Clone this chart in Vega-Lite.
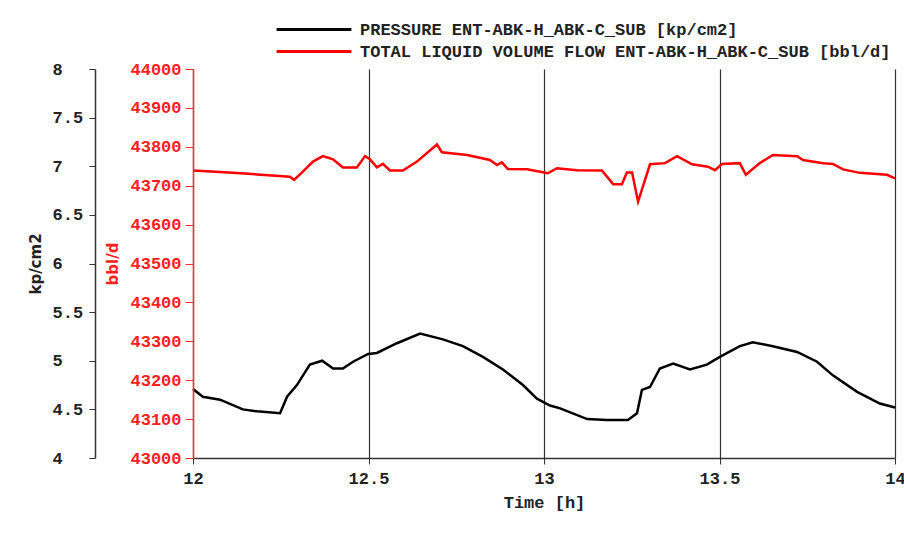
{
  "$schema": "https://vega.github.io/schema/vega-lite/v6.json",
  "autosize": {"type": "none"},
  "padding": {"left": 193, "top": 69, "right": 9, "bottom": 88},
  "width": 702,
  "height": 389,
  "background": "white",
  "config": {
    "view": {"stroke": null},
    "font": "Liberation Mono",
    "axis": {"labelFont": "Liberation Mono", "labelFontSize": 17, "labelFontWeight": "bold"},
    "legend": {
      "title": null,
      "orient": "none",
      "symbolType": "stroke",
      "symbolSize": 5600,
      "symbolStrokeWidth": 3,
      "labelFont": "Liberation Mono",
      "labelFontSize": 17,
      "labelFontWeight": "bold",
      "labelColor": "#222",
      "labelLimit": 0,
      "labelOffset": 7
    }
  },
  "datasets": {
    "pressure": [
      {"t": 12.000, "v": 4.71, "series": "PRESSURE ENT-ABK-H_ABK-C_SUB [kp/cm2]"},
      {"t": 12.028, "v": 4.63, "series": "PRESSURE ENT-ABK-H_ABK-C_SUB [kp/cm2]"},
      {"t": 12.077, "v": 4.60, "series": "PRESSURE ENT-ABK-H_ABK-C_SUB [kp/cm2]"},
      {"t": 12.142, "v": 4.50, "series": "PRESSURE ENT-ABK-H_ABK-C_SUB [kp/cm2]"},
      {"t": 12.182, "v": 4.48, "series": "PRESSURE ENT-ABK-H_ABK-C_SUB [kp/cm2]"},
      {"t": 12.248, "v": 4.46, "series": "PRESSURE ENT-ABK-H_ABK-C_SUB [kp/cm2]"},
      {"t": 12.268, "v": 4.63, "series": "PRESSURE ENT-ABK-H_ABK-C_SUB [kp/cm2]"},
      {"t": 12.296, "v": 4.75, "series": "PRESSURE ENT-ABK-H_ABK-C_SUB [kp/cm2]"},
      {"t": 12.333, "v": 4.96, "series": "PRESSURE ENT-ABK-H_ABK-C_SUB [kp/cm2]"},
      {"t": 12.368, "v": 5.00, "series": "PRESSURE ENT-ABK-H_ABK-C_SUB [kp/cm2]"},
      {"t": 12.399, "v": 4.92, "series": "PRESSURE ENT-ABK-H_ABK-C_SUB [kp/cm2]"},
      {"t": 12.427, "v": 4.92, "series": "PRESSURE ENT-ABK-H_ABK-C_SUB [kp/cm2]"},
      {"t": 12.456, "v": 4.99, "series": "PRESSURE ENT-ABK-H_ABK-C_SUB [kp/cm2]"},
      {"t": 12.499, "v": 5.07, "series": "PRESSURE ENT-ABK-H_ABK-C_SUB [kp/cm2]"},
      {"t": 12.524, "v": 5.08, "series": "PRESSURE ENT-ABK-H_ABK-C_SUB [kp/cm2]"},
      {"t": 12.581, "v": 5.18, "series": "PRESSURE ENT-ABK-H_ABK-C_SUB [kp/cm2]"},
      {"t": 12.647, "v": 5.28, "series": "PRESSURE ENT-ABK-H_ABK-C_SUB [kp/cm2]"},
      {"t": 12.712, "v": 5.22, "series": "PRESSURE ENT-ABK-H_ABK-C_SUB [kp/cm2]"},
      {"t": 12.769, "v": 5.15, "series": "PRESSURE ENT-ABK-H_ABK-C_SUB [kp/cm2]"},
      {"t": 12.826, "v": 5.04, "series": "PRESSURE ENT-ABK-H_ABK-C_SUB [kp/cm2]"},
      {"t": 12.883, "v": 4.91, "series": "PRESSURE ENT-ABK-H_ABK-C_SUB [kp/cm2]"},
      {"t": 12.940, "v": 4.75, "series": "PRESSURE ENT-ABK-H_ABK-C_SUB [kp/cm2]"},
      {"t": 12.980, "v": 4.61, "series": "PRESSURE ENT-ABK-H_ABK-C_SUB [kp/cm2]"},
      {"t": 13.017, "v": 4.54, "series": "PRESSURE ENT-ABK-H_ABK-C_SUB [kp/cm2]"},
      {"t": 13.046, "v": 4.51, "series": "PRESSURE ENT-ABK-H_ABK-C_SUB [kp/cm2]"},
      {"t": 13.123, "v": 4.40, "series": "PRESSURE ENT-ABK-H_ABK-C_SUB [kp/cm2]"},
      {"t": 13.179, "v": 4.39, "series": "PRESSURE ENT-ABK-H_ABK-C_SUB [kp/cm2]"},
      {"t": 13.239, "v": 4.39, "series": "PRESSURE ENT-ABK-H_ABK-C_SUB [kp/cm2]"},
      {"t": 13.265, "v": 4.46, "series": "PRESSURE ENT-ABK-H_ABK-C_SUB [kp/cm2]"},
      {"t": 13.279, "v": 4.70, "series": "PRESSURE ENT-ABK-H_ABK-C_SUB [kp/cm2]"},
      {"t": 13.302, "v": 4.73, "series": "PRESSURE ENT-ABK-H_ABK-C_SUB [kp/cm2]"},
      {"t": 13.330, "v": 4.92, "series": "PRESSURE ENT-ABK-H_ABK-C_SUB [kp/cm2]"},
      {"t": 13.368, "v": 4.97, "series": "PRESSURE ENT-ABK-H_ABK-C_SUB [kp/cm2]"},
      {"t": 13.416, "v": 4.91, "series": "PRESSURE ENT-ABK-H_ABK-C_SUB [kp/cm2]"},
      {"t": 13.464, "v": 4.96, "series": "PRESSURE ENT-ABK-H_ABK-C_SUB [kp/cm2]"},
      {"t": 13.501, "v": 5.04, "series": "PRESSURE ENT-ABK-H_ABK-C_SUB [kp/cm2]"},
      {"t": 13.558, "v": 5.15, "series": "PRESSURE ENT-ABK-H_ABK-C_SUB [kp/cm2]"},
      {"t": 13.595, "v": 5.19, "series": "PRESSURE ENT-ABK-H_ABK-C_SUB [kp/cm2]"},
      {"t": 13.652, "v": 5.15, "series": "PRESSURE ENT-ABK-H_ABK-C_SUB [kp/cm2]"},
      {"t": 13.721, "v": 5.09, "series": "PRESSURE ENT-ABK-H_ABK-C_SUB [kp/cm2]"},
      {"t": 13.778, "v": 4.99, "series": "PRESSURE ENT-ABK-H_ABK-C_SUB [kp/cm2]"},
      {"t": 13.823, "v": 4.85, "series": "PRESSURE ENT-ABK-H_ABK-C_SUB [kp/cm2]"},
      {"t": 13.892, "v": 4.68, "series": "PRESSURE ENT-ABK-H_ABK-C_SUB [kp/cm2]"},
      {"t": 13.957, "v": 4.56, "series": "PRESSURE ENT-ABK-H_ABK-C_SUB [kp/cm2]"},
      {"t": 14.000, "v": 4.52, "series": "PRESSURE ENT-ABK-H_ABK-C_SUB [kp/cm2]"}
    ],
    "flow": [
      {"t": 12.000, "v": 43739, "series": "TOTAL LIQUID VOLUME FLOW ENT-ABK-H_ABK-C_SUB [bbl/d]"},
      {"t": 12.114, "v": 43733, "series": "TOTAL LIQUID VOLUME FLOW ENT-ABK-H_ABK-C_SUB [bbl/d]"},
      {"t": 12.182, "v": 43729, "series": "TOTAL LIQUID VOLUME FLOW ENT-ABK-H_ABK-C_SUB [bbl/d]"},
      {"t": 12.276, "v": 43723, "series": "TOTAL LIQUID VOLUME FLOW ENT-ABK-H_ABK-C_SUB [bbl/d]"},
      {"t": 12.288, "v": 43715, "series": "TOTAL LIQUID VOLUME FLOW ENT-ABK-H_ABK-C_SUB [bbl/d]"},
      {"t": 12.313, "v": 43736, "series": "TOTAL LIQUID VOLUME FLOW ENT-ABK-H_ABK-C_SUB [bbl/d]"},
      {"t": 12.342, "v": 43762, "series": "TOTAL LIQUID VOLUME FLOW ENT-ABK-H_ABK-C_SUB [bbl/d]"},
      {"t": 12.370, "v": 43776, "series": "TOTAL LIQUID VOLUME FLOW ENT-ABK-H_ABK-C_SUB [bbl/d]"},
      {"t": 12.399, "v": 43768, "series": "TOTAL LIQUID VOLUME FLOW ENT-ABK-H_ABK-C_SUB [bbl/d]"},
      {"t": 12.427, "v": 43747, "series": "TOTAL LIQUID VOLUME FLOW ENT-ABK-H_ABK-C_SUB [bbl/d]"},
      {"t": 12.467, "v": 43747, "series": "TOTAL LIQUID VOLUME FLOW ENT-ABK-H_ABK-C_SUB [bbl/d]"},
      {"t": 12.490, "v": 43776, "series": "TOTAL LIQUID VOLUME FLOW ENT-ABK-H_ABK-C_SUB [bbl/d]"},
      {"t": 12.504, "v": 43768, "series": "TOTAL LIQUID VOLUME FLOW ENT-ABK-H_ABK-C_SUB [bbl/d]"},
      {"t": 12.524, "v": 43747, "series": "TOTAL LIQUID VOLUME FLOW ENT-ABK-H_ABK-C_SUB [bbl/d]"},
      {"t": 12.541, "v": 43756, "series": "TOTAL LIQUID VOLUME FLOW ENT-ABK-H_ABK-C_SUB [bbl/d]"},
      {"t": 12.561, "v": 43739, "series": "TOTAL LIQUID VOLUME FLOW ENT-ABK-H_ABK-C_SUB [bbl/d]"},
      {"t": 12.598, "v": 43739, "series": "TOTAL LIQUID VOLUME FLOW ENT-ABK-H_ABK-C_SUB [bbl/d]"},
      {"t": 12.638, "v": 43762, "series": "TOTAL LIQUID VOLUME FLOW ENT-ABK-H_ABK-C_SUB [bbl/d]"},
      {"t": 12.695, "v": 43806, "series": "TOTAL LIQUID VOLUME FLOW ENT-ABK-H_ABK-C_SUB [bbl/d]"},
      {"t": 12.709, "v": 43786, "series": "TOTAL LIQUID VOLUME FLOW ENT-ABK-H_ABK-C_SUB [bbl/d]"},
      {"t": 12.781, "v": 43779, "series": "TOTAL LIQUID VOLUME FLOW ENT-ABK-H_ABK-C_SUB [bbl/d]"},
      {"t": 12.846, "v": 43766, "series": "TOTAL LIQUID VOLUME FLOW ENT-ABK-H_ABK-C_SUB [bbl/d]"},
      {"t": 12.866, "v": 43753, "series": "TOTAL LIQUID VOLUME FLOW ENT-ABK-H_ABK-C_SUB [bbl/d]"},
      {"t": 12.880, "v": 43760, "series": "TOTAL LIQUID VOLUME FLOW ENT-ABK-H_ABK-C_SUB [bbl/d]"},
      {"t": 12.897, "v": 43743, "series": "TOTAL LIQUID VOLUME FLOW ENT-ABK-H_ABK-C_SUB [bbl/d]"},
      {"t": 12.952, "v": 43742, "series": "TOTAL LIQUID VOLUME FLOW ENT-ABK-H_ABK-C_SUB [bbl/d]"},
      {"t": 12.989, "v": 43736, "series": "TOTAL LIQUID VOLUME FLOW ENT-ABK-H_ABK-C_SUB [bbl/d]"},
      {"t": 13.011, "v": 43732, "series": "TOTAL LIQUID VOLUME FLOW ENT-ABK-H_ABK-C_SUB [bbl/d]"},
      {"t": 13.037, "v": 43745, "series": "TOTAL LIQUID VOLUME FLOW ENT-ABK-H_ABK-C_SUB [bbl/d]"},
      {"t": 13.094, "v": 43740, "series": "TOTAL LIQUID VOLUME FLOW ENT-ABK-H_ABK-C_SUB [bbl/d]"},
      {"t": 13.165, "v": 43739, "series": "TOTAL LIQUID VOLUME FLOW ENT-ABK-H_ABK-C_SUB [bbl/d]"},
      {"t": 13.197, "v": 43704, "series": "TOTAL LIQUID VOLUME FLOW ENT-ABK-H_ABK-C_SUB [bbl/d]"},
      {"t": 13.222, "v": 43704, "series": "TOTAL LIQUID VOLUME FLOW ENT-ABK-H_ABK-C_SUB [bbl/d]"},
      {"t": 13.236, "v": 43734, "series": "TOTAL LIQUID VOLUME FLOW ENT-ABK-H_ABK-C_SUB [bbl/d]"},
      {"t": 13.251, "v": 43734, "series": "TOTAL LIQUID VOLUME FLOW ENT-ABK-H_ABK-C_SUB [bbl/d]"},
      {"t": 13.268, "v": 43659, "series": "TOTAL LIQUID VOLUME FLOW ENT-ABK-H_ABK-C_SUB [bbl/d]"},
      {"t": 13.302, "v": 43755, "series": "TOTAL LIQUID VOLUME FLOW ENT-ABK-H_ABK-C_SUB [bbl/d]"},
      {"t": 13.345, "v": 43758, "series": "TOTAL LIQUID VOLUME FLOW ENT-ABK-H_ABK-C_SUB [bbl/d]"},
      {"t": 13.379, "v": 43776, "series": "TOTAL LIQUID VOLUME FLOW ENT-ABK-H_ABK-C_SUB [bbl/d]"},
      {"t": 13.422, "v": 43755, "series": "TOTAL LIQUID VOLUME FLOW ENT-ABK-H_ABK-C_SUB [bbl/d]"},
      {"t": 13.467, "v": 43749, "series": "TOTAL LIQUID VOLUME FLOW ENT-ABK-H_ABK-C_SUB [bbl/d]"},
      {"t": 13.487, "v": 43740, "series": "TOTAL LIQUID VOLUME FLOW ENT-ABK-H_ABK-C_SUB [bbl/d]"},
      {"t": 13.507, "v": 43756, "series": "TOTAL LIQUID VOLUME FLOW ENT-ABK-H_ABK-C_SUB [bbl/d]"},
      {"t": 13.558, "v": 43758, "series": "TOTAL LIQUID VOLUME FLOW ENT-ABK-H_ABK-C_SUB [bbl/d]"},
      {"t": 13.575, "v": 43728, "series": "TOTAL LIQUID VOLUME FLOW ENT-ABK-H_ABK-C_SUB [bbl/d]"},
      {"t": 13.615, "v": 43758, "series": "TOTAL LIQUID VOLUME FLOW ENT-ABK-H_ABK-C_SUB [bbl/d]"},
      {"t": 13.652, "v": 43779, "series": "TOTAL LIQUID VOLUME FLOW ENT-ABK-H_ABK-C_SUB [bbl/d]"},
      {"t": 13.721, "v": 43776, "series": "TOTAL LIQUID VOLUME FLOW ENT-ABK-H_ABK-C_SUB [bbl/d]"},
      {"t": 13.738, "v": 43766, "series": "TOTAL LIQUID VOLUME FLOW ENT-ABK-H_ABK-C_SUB [bbl/d]"},
      {"t": 13.795, "v": 43758, "series": "TOTAL LIQUID VOLUME FLOW ENT-ABK-H_ABK-C_SUB [bbl/d]"},
      {"t": 13.823, "v": 43756, "series": "TOTAL LIQUID VOLUME FLOW ENT-ABK-H_ABK-C_SUB [bbl/d]"},
      {"t": 13.852, "v": 43742, "series": "TOTAL LIQUID VOLUME FLOW ENT-ABK-H_ABK-C_SUB [bbl/d]"},
      {"t": 13.900, "v": 43733, "series": "TOTAL LIQUID VOLUME FLOW ENT-ABK-H_ABK-C_SUB [bbl/d]"},
      {"t": 13.977, "v": 43728, "series": "TOTAL LIQUID VOLUME FLOW ENT-ABK-H_ABK-C_SUB [bbl/d]"},
      {"t": 14.000, "v": 43719, "series": "TOTAL LIQUID VOLUME FLOW ENT-ABK-H_ABK-C_SUB [bbl/d]"}
    ]
  },
  "encoding": {
    "x": {
      "field": "t",
      "type": "quantitative",
      "scale": {"domain": [12, 14], "nice": false, "zero": false},
      "axis": {
        "title": "Time [h]",
        "titleFont": "Liberation Mono",
        "titleFontSize": 17,
        "titleFontWeight": "bold",
        "titleColor": "#222",
        "titlePadding": 8,
        "values": [12, 12.5, 13, 13.5, 14],
        "format": "",
        "grid": true,
        "gridColor": "#333",
        "gridOpacity": 1,
        "gridWidth": 1.2,
        "domainColor": "#333",
        "domainWidth": 1.5,
        "tickColor": "#333",
        "tickSize": 6,
        "labelColor": "#222",
        "labelPadding": 6,
        "labelFlush": false
      }
    }
  },
  "layer": [
    {
      "data": {"name": "pressure"},
      "mark": {"type": "line", "strokeWidth": 2.5},
      "encoding": {
        "color": {
          "field": "series",
          "type": "nominal",
          "scale": {"range": ["#000000"]},
          "legend": {"legendX": 82, "legendY": -78.5}
        },
        "y": {
          "field": "v",
          "type": "quantitative",
          "scale": {"domain": [4, 8], "nice": false, "zero": false},
          "axis": {
            "orient": "left",
            "offset": 98,
            "title": "kp/cm2",
            "titleFont": "DejaVu Sans",
            "titleFontSize": 15,
            "titleFontWeight": "bold",
            "titleColor": "#222",
            "titleX": -52,
            "titleY": 194.5,
            "values": [4, 4.5, 5, 5.5, 6, 6.5, 7, 7.5, 8],
            "format": "",
            "grid": false,
            "domainColor": "#333",
            "domainWidth": 1.5,
            "tickColor": "#333",
            "tickSize": 6,
            "labelAlign": "left",
            "labelPadding": 37,
            "labelColor": "#222",
            "labelFlush": false
          }
        }
      }
    },
    {
      "data": {"name": "flow"},
      "mark": {"type": "line", "strokeWidth": 2.5},
      "encoding": {
        "stroke": {
          "field": "series",
          "type": "nominal",
          "scale": {"range": ["#ff0000"]},
          "legend": {"legendX": 82, "legendY": -56.5}
        },
        "y": {
          "field": "v",
          "type": "quantitative",
          "scale": {"domain": [43000, 44000], "nice": false, "zero": false},
          "axis": {
            "orient": "left",
            "offset": 0,
            "zindex": 1,
            "title": "bbl/d",
            "titleFont": "DejaVu Sans",
            "titleFontSize": 15,
            "titleFontWeight": "bold",
            "titleColor": "#ff2020",
            "titleX": -73,
            "titleY": 194.5,
            "values": [43000, 43100, 43200, 43300, 43400, 43500, 43600, 43700, 43800, 43900, 44000],
            "format": "d",
            "grid": false,
            "domainColor": "#ff3030",
            "domainWidth": 1.5,
            "tickColor": "#ff3030",
            "tickSize": 8,
            "labelPadding": 4,
            "labelColor": "#ff2020",
            "labelFlush": false
          }
        }
      }
    }
  ],
  "resolve": {"scale": {"y": "independent"}, "axis": {"y": "independent"}}
}
